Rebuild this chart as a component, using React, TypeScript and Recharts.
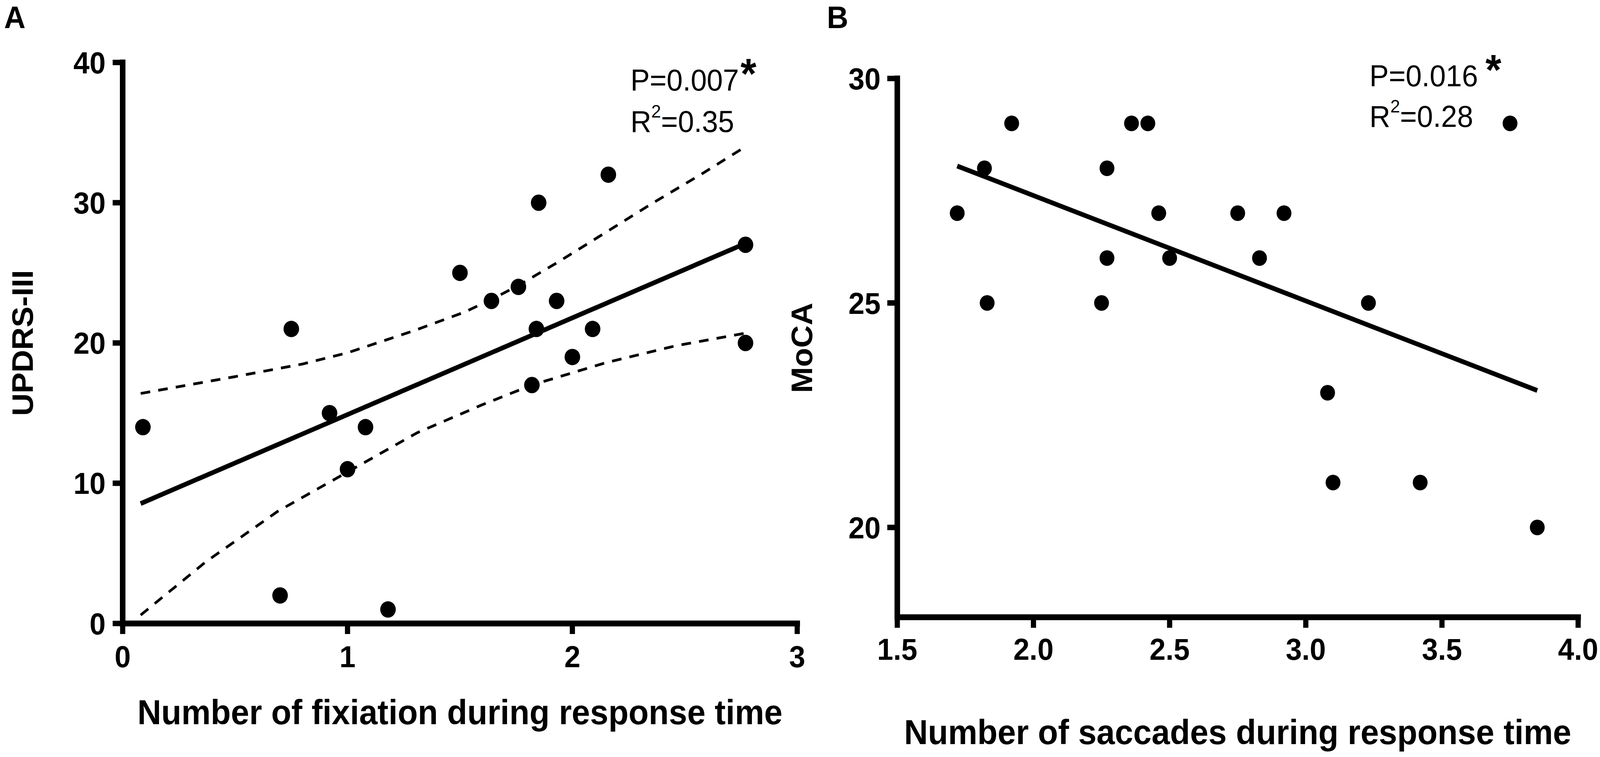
import React from "react";
import { ScatterChart, Scatter, XAxis, YAxis, Label } from "recharts";

const FONT = '"Liberation Sans", Arial, Helvetica, sans-serif';
const PAGE_W = 4317;
const PAGE_H = 1939;

// Panel A: fixations vs UPDRS-III
const fixationA = [0.09, 0.75, 0.92, 1.08, 1.0, 0.7, 1.18, 1.5, 2.16, 1.85, 1.76, 1.64, 1.93, 1.84, 2.09, 2.0, 1.82, 2.77, 2.77];
const updrsA = [14, 21, 15, 14, 11, 2, 1, 25, 32, 30, 24, 23, 23, 21, 21, 19, 17, 27, 20];
const fitAX = [0.08, 2.77];
const fitAY = [8.55, 27.1];
const upperAX = [0.08, 0.5, 0.8, 1.0, 1.3, 1.52, 1.64, 1.76, 1.94, 2.15, 2.36, 2.57, 2.77];
const upperAY = [16.4, 17.6, 18.5, 19.3, 20.9, 22.2, 23.1, 24.1, 25.8, 27.9, 30.0, 32.0, 34.0];
const lowerAX = [0.08, 0.37, 0.69, 1.0, 1.31, 1.6, 1.82, 2.15, 2.46, 2.77];
const lowerAY = [0.6, 4.4, 8.0, 10.8, 13.6, 15.6, 17.0, 18.6, 19.8, 20.7];
const ticksAX = [0, 1, 2, 3];
const ticksAY = [0, 10, 20, 30, 40];

// Panel B: saccades vs MoCA
const saccadesB = [1.72, 1.82, 1.83, 1.92, 2.25, 2.27, 2.27, 2.36, 2.42, 2.46, 2.5, 2.75, 2.83, 2.92, 3.23, 3.08, 3.1, 3.42, 3.75, 3.85];
const mocaB = [27, 28, 25, 29, 25, 28, 26, 29, 29, 27, 26, 27, 26, 27, 25, 23, 21, 21, 29, 20];
const fitBX = [1.72, 3.85];
const fitBY = [28.05, 23.05];
const ticksBX = [1.5, 2.0, 2.5, 3.0, 3.5, 4.0];
const ticksBY = [20, 25, 30];

const zip = (xs: number[], ys: number[]) => xs.map((x, i) => ({ x, y: ys[i] }));

const axisLine = { stroke: "#000", strokeWidth: 15, strokeLinecap: "square" as const };
const tickLine = { stroke: "#000", strokeWidth: 14 };
const tickFont = { fill: "#000", fontSize: 78, fontWeight: 700, fontFamily: FONT };
const solid = { stroke: "#000", strokeWidth: 12 };
const dashed = { stroke: "#000", strokeWidth: 7, strokeDasharray: "26 22" };

const noDot = () => <g />;
const dot = (r: number) => (p: any) => <circle cx={p.cx} cy={p.cy} r={r} fill="#000" />;

function XTitle(props: any) {
  const vb = props.viewBox || {};
  const cx = (vb.x ?? 0) + (vb.width ?? 0) / 2;
  return (
    <text x={cx} y={props.baseline} textAnchor="middle" fontSize={89} fontWeight={700} fontFamily={FONT} fill="#000">
      {props.text}
    </text>
  );
}

function YTitle(props: any) {
  const vb = props.viewBox || {};
  const cx = (vb.x ?? 0) + props.dx;
  const cy = (vb.y ?? 0) + (vb.height ?? 0) / 2;
  return (
    <text
      x={cx}
      y={cy}
      dy="0.355em"
      transform={`rotate(-90 ${cx} ${cy})`}
      textAnchor="middle"
      fontSize={80}
      fontWeight={700}
      fontFamily={FONT}
      fill="#000"
    >
      {props.text}
    </text>
  );
}

function PanelA() {
  return (
    <div style={{ position: "absolute", left: 0, top: 0 }}>
      <ScatterChart width={2200} height={1939} margin={{ top: 160, right: 49, bottom: 192, left: 0 }}>
        <XAxis
          type="number"
          dataKey="x"
          domain={[0, 3]}
          ticks={ticksAX}
          interval={0}
          height={150}
          axisLine={axisLine}
          tickLine={tickLine}
          tickSize={27}
          tickMargin={30}
          tick={tickFont}
        >
          <Label content={(p: any) => <XTitle {...p} baseline={1855} text="Number of fixiation during response time" />} />
        </XAxis>
        <YAxis
          type="number"
          dataKey="y"
          domain={[0, 40]}
          ticks={ticksAY}
          interval={0}
          width={331}
          axisLine={axisLine}
          tickLine={tickLine}
          tickSize={27}
          tickMargin={19}
          tick={tickFont}
        >
          <Label content={(p: any) => <YTitle {...p} dx={60} text="UPDRS-III" />} />
        </YAxis>
        <Scatter data={zip(upperAX, upperAY)} line={dashed} shape={noDot} isAnimationActive={false} />
        <Scatter data={zip(lowerAX, lowerAY)} line={dashed} shape={noDot} isAnimationActive={false} />
        <Scatter data={zip(fitAX, fitAY)} line={solid} shape={noDot} isAnimationActive={false} />
        <Scatter data={zip(fixationA, updrsA)} shape={dot(21)} isAnimationActive={false} />
      </ScatterChart>
    </div>
  );
}

function PanelB() {
  return (
    <div style={{ position: "absolute", left: 2100, top: 0 }}>
      <ScatterChart width={2217} height={1939} margin={{ top: 201, right: 59, bottom: 208, left: 0 }}>
        <XAxis
          type="number"
          dataKey="x"
          domain={[1.5, 4]}
          ticks={ticksBX}
          interval={0}
          height={150}
          axisLine={axisLine}
          tickLine={tickLine}
          tickSize={27}
          tickMargin={27}
          tick={tickFont}
          tickFormatter={(v: number) => v.toFixed(1)}
        >
          <Label content={(p: any) => <XTitle {...p} baseline={1906} text="Number of saccades during response time" />} />
        </XAxis>
        <YAxis
          type="number"
          dataKey="y"
          domain={[18, 30]}
          ticks={ticksBY}
          interval={0}
          width={321}
          axisLine={axisLine}
          tickLine={tickLine}
          tickSize={27}
          tickMargin={18}
          tick={tickFont}
        >
          <Label content={(p: any) => <YTitle {...p} dx={63} text="MoCA" />} />
        </YAxis>
        <Scatter data={zip(fitBX, fitBY)} line={solid} shape={noDot} isAnimationActive={false} />
        <Scatter data={zip(saccadesB, mocaB)} shape={dot(20)} isAnimationActive={false} />
      </ScatterChart>
    </div>
  );
}

function Stats({ x, pBase, rBase, p, r2, starX, starBase }: any) {
  return (
    <g fontFamily={FONT} fill="#000">
      <text x={x} y={pBase} fontSize={78}>{p}</text>
      <text x={starX} y={starBase} fontSize={110} fontWeight={700}>*</text>
      <text x={x} y={rBase} fontSize={78}>
        R<tspan fontSize={47} dy={-37}>2</tspan>
        <tspan dy={37}>{r2}</tspan>
      </text>
    </g>
  );
}

export default function App() {
  // the browser window may be narrower than the figure; squeeze horizontally to fit
  const vw = typeof window !== "undefined" ? window.innerWidth : PAGE_W;
  const sx = Math.min(1, vw / PAGE_W);
  return (
    <div
      style={{
        position: "absolute",
        left: 0,
        top: 0,
        width: PAGE_W,
        height: PAGE_H,
        background: "#fff",
        overflow: "hidden",
        transform: `scale(${sx}, 1)`,
        transformOrigin: "0 0",
      }}
    >
      <PanelA />
      <PanelB />
      <svg width={PAGE_W} height={PAGE_H} style={{ position: "absolute", left: 0, top: 0, pointerEvents: "none" }}>
        <text x={11} y={72} fontSize={80} fontWeight={700} fontFamily={FONT}>A</text>
        <text x={2231} y={72} fontSize={80} fontWeight={700} fontFamily={FONT}>B</text>
        <Stats x={1701} pBase={232} rBase={338} p="P=0.007" r2="=0.35" starX={1998} starBase={226} />
        <Stats x={3695} pBase={221} rBase={325} p="P=0.016" r2="=0.28" starX={4008} starBase={216} />
      </svg>
    </div>
  );
}
